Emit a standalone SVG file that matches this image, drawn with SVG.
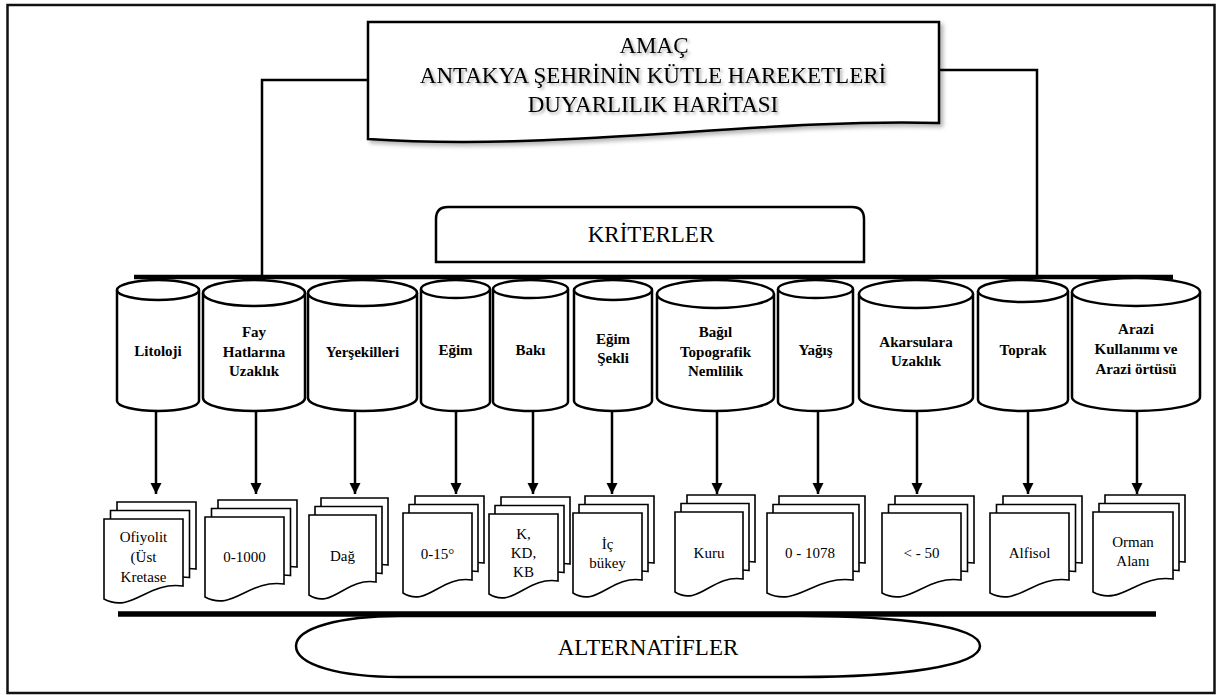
<svg xmlns="http://www.w3.org/2000/svg" width="1217" height="695" viewBox="0 0 1217 695">
<style>
text{font-family:"Liberation Serif","Times New Roman",serif;fill:#000;text-anchor:middle}
.big{font-size:23px}
.cyl{font-size:15px;font-weight:bold}
.doc{font-size:15px}
.s{fill:#fff;stroke:#000;stroke-width:2.5}
.d{fill:#fff;stroke:#000;stroke-width:1.6}
.ln{fill:none;stroke:#000;stroke-width:2.5}
.ar{fill:none;stroke:#000;stroke-width:2.5;marker-end:url(#ah)}
</style>
<defs>
<marker id="ah" markerUnits="userSpaceOnUse" markerWidth="12" markerHeight="12" viewBox="0 0 12 12" refX="11" refY="6" orient="auto">
<path d="M0,0.5 L11,6 L0,11.5 Z" fill="#000"/>
</marker>
<filter id="sh" x="-5%" y="-15%" width="115%" height="140%">
<feGaussianBlur in="SourceAlpha" stdDeviation="2"/>
<feOffset dx="3" dy="3" result="b"/>
<feFlood flood-color="#000" flood-opacity="0.3"/>
<feComposite in2="b" operator="in"/>
<feMerge><feMergeNode/><feMergeNode in="SourceGraphic"/></feMerge>
</filter>
<filter id="tsh" x="-5%" y="-30%" width="110%" height="160%">
<feGaussianBlur in="SourceAlpha" stdDeviation="1.5"/>
<feOffset dx="2" dy="2" result="b"/>
<feFlood flood-color="#000" flood-opacity="0.35"/>
<feComposite in2="b" operator="in"/>
<feMerge><feMergeNode/><feMergeNode in="SourceGraphic"/></feMerge>
</filter>
</defs>
<rect width="1217" height="695" fill="#fff"/>
<rect x="7.5" y="5" width="1207" height="688" fill="none" stroke="#111" stroke-width="2.5"/>

<g id="connectors">
<path class="ln" d="M368,80 H262 V277"/>
<path class="ln" d="M939,70 H1037 V277"/>
<line x1="134" y1="277" x2="1173" y2="277" stroke="#000" stroke-width="4.5"/>
<line x1="118" y1="614" x2="1156" y2="614" stroke="#000" stroke-width="5.5"/>
<line class="ar" x1="156" y1="410" x2="156" y2="494"/>
<line class="ar" x1="256" y1="410" x2="256" y2="494"/>
<line class="ar" x1="355" y1="410" x2="355" y2="494"/>
<line class="ar" x1="456" y1="410" x2="456" y2="494"/>
<line class="ar" x1="533" y1="410" x2="533" y2="494"/>
<line class="ar" x1="612" y1="410" x2="612" y2="494"/>
<line class="ar" x1="717" y1="410" x2="717" y2="494"/>
<line class="ar" x1="818" y1="410" x2="818" y2="494"/>
<line class="ar" x1="917" y1="410" x2="917" y2="494"/>
<line class="ar" x1="1028" y1="410" x2="1028" y2="494"/>
<line class="ar" x1="1137" y1="410" x2="1137" y2="494"/>
</g>

<g id="amac">
<path filter="url(#sh)" class="s" d="M368,22 H939 V123 C760,118 560,152 368,139 Z"/>
<g filter="url(#tsh)">
<text class="big" x="654" y="53">AMAÇ</text>
<text class="big" x="653" y="83">ANTAKYA ŞEHRİNİN KÜTLE HAREKETLERİ</text>
<text class="big" x="653" y="112">DUYARLILIK HARİTASI</text>
</g>
</g>

<g id="kriterler">
<path class="s" d="M436,262 V219 Q436,207 448,207 H852 Q864,207 864,219 V262 Z"/>
<text class="big" x="651" y="242">KRİTERLER</text>
</g>

<g id="c1"><path class="s" d="M117,290 V401 A41,10 0 0 0 199,401 V290"/><ellipse class="s" cx="158" cy="290" rx="41" ry="10"/>
<text class="cyl" x="158" y="356">Litoloji</text></g>
<g id="c2"><path class="s" d="M203,293 V398 A51,13 0 0 0 305,398 V293"/><ellipse class="s" cx="254" cy="293" rx="51" ry="13"/>
<text class="cyl" x="254" y="337">Fay</text><text class="cyl" x="254" y="357">Hatlarına</text><text class="cyl" x="254" y="376">Uzaklık</text></g>
<g id="c3"><path class="s" d="M308,293 V398 A54.5,13 0 0 0 417,398 V293"/><ellipse class="s" cx="362.5" cy="293" rx="54.5" ry="13"/>
<text class="cyl" x="362.5" y="357">Yerşekilleri</text></g>
<g id="c4"><path class="s" d="M421,289 V402 A34.5,9 0 0 0 490,402 V289"/><ellipse class="s" cx="455.5" cy="289" rx="34.5" ry="9"/>
<text class="cyl" x="455.5" y="355">Eğim</text></g>
<g id="c5"><path class="s" d="M493,289 V402 A37.5,9 0 0 0 568,402 V289"/><ellipse class="s" cx="530.5" cy="289" rx="37.5" ry="9"/>
<text class="cyl" x="530.5" y="355">Bakı</text></g>
<g id="c6"><path class="s" d="M574,290 V401 A39,10 0 0 0 652,401 V290"/><ellipse class="s" cx="613" cy="290" rx="39" ry="10"/>
<text class="cyl" x="613" y="344">Eğim</text><text class="cyl" x="613" y="363">Şekli</text></g>
<g id="c7"><path class="s" d="M657,294 V397 A58.5,14 0 0 0 774,397 V294"/><ellipse class="s" cx="715.5" cy="294" rx="58.5" ry="14"/>
<text class="cyl" x="715.5" y="337">Bağıl</text><text class="cyl" x="715.5" y="357">Topografik</text><text class="cyl" x="715.5" y="376">Nemlilik</text></g>
<g id="c8"><path class="s" d="M778,289 V402 A37.5,9 0 0 0 853,402 V289"/><ellipse class="s" cx="815.5" cy="289" rx="37.5" ry="9"/>
<text class="cyl" x="815.5" y="355">Yağış</text></g>
<g id="c9"><path class="s" d="M859,294 V397 A57,14 0 0 0 973,397 V294"/><ellipse class="s" cx="916" cy="294" rx="57" ry="14"/>
<text class="cyl" x="916" y="347">Akarsulara</text><text class="cyl" x="916" y="366">Uzaklık</text></g>
<g id="c10"><path class="s" d="M978,291 V400 A45,11 0 0 0 1068,400 V291"/><ellipse class="s" cx="1023" cy="291" rx="45" ry="11"/>
<text class="cyl" x="1023" y="355">Toprak</text></g>
<g id="c11"><path class="s" d="M1072,292 V397 A64,14 0 0 0 1200,397 V292"/><ellipse class="s" cx="1136" cy="292" rx="64" ry="14"/>
<text class="cyl" x="1136" y="334">Arazi</text><text class="cyl" x="1136" y="354">Kullanımı ve</text><text class="cyl" x="1136" y="374">Arazi örtüsü</text></g>

<g id="d1" transform="translate(104,519)">
<path class="d" transform="translate(13,-17)" d="M0,0 H79 V67 C43,62 28,95 0,80 Z"/>
<path class="d" transform="translate(6.5,-8.5)" d="M0,0 H79 V67 C43,62 28,95 0,80 Z"/>
<path class="d" d="M0,0 H79 V67 C43,62 28,95 0,80 Z"/>
<text class="doc" x="39.5" y="23">Ofiyolit</text><text class="doc" x="39.5" y="43">(Üst</text><text class="doc" x="39.5" y="63">Kretase</text></g>
<g id="d2" transform="translate(205,517)">
<path class="d" transform="translate(13,-17)" d="M0,0 H79 V67 C43,62 28,95 0,80 Z"/>
<path class="d" transform="translate(6.5,-8.5)" d="M0,0 H79 V67 C43,62 28,95 0,80 Z"/>
<path class="d" d="M0,0 H79 V67 C43,62 28,95 0,80 Z"/>
<text class="doc" x="39.5" y="45">0-1000</text></g>
<g id="d3" transform="translate(309,515)">
<path class="d" transform="translate(12,-17)" d="M0,0 H67 V67 C37,62 23,95 0,80 Z"/>
<path class="d" transform="translate(6,-8.5)" d="M0,0 H67 V67 C37,62 23,95 0,80 Z"/>
<path class="d" d="M0,0 H67 V67 C37,62 23,95 0,80 Z"/>
<text class="doc" x="33.5" y="46">Dağ</text></g>
<g id="d4" transform="translate(403,513)">
<path class="d" transform="translate(12,-17)" d="M0,0 H69 V67 C38,62 24,95 0,80 Z"/>
<path class="d" transform="translate(6,-8.5)" d="M0,0 H69 V67 C38,62 24,95 0,80 Z"/>
<path class="d" d="M0,0 H69 V67 C38,62 24,95 0,80 Z"/>
<text class="doc" x="34.5" y="46">0-15°</text></g>
<g id="d5" transform="translate(489,514)">
<path class="d" transform="translate(12,-17)" d="M0,0 H69 V67 C38,62 24,95 0,80 Z"/>
<path class="d" transform="translate(6,-8.5)" d="M0,0 H69 V67 C38,62 24,95 0,80 Z"/>
<path class="d" d="M0,0 H69 V67 C38,62 24,95 0,80 Z"/>
<text class="doc" x="34.5" y="25">K,</text><text class="doc" x="34.5" y="44">KD,</text><text class="doc" x="34.5" y="63">KB</text></g>
<g id="d6" transform="translate(573,513)">
<path class="d" transform="translate(12,-17)" d="M0,0 H69 V67 C38,62 24,95 0,80 Z"/>
<path class="d" transform="translate(6,-8.5)" d="M0,0 H69 V67 C38,62 24,95 0,80 Z"/>
<path class="d" d="M0,0 H69 V67 C38,62 24,95 0,80 Z"/>
<text class="doc" x="34.5" y="36">İç</text><text class="doc" x="34.5" y="55">bükey</text></g>
<g id="d7" transform="translate(675,512)">
<path class="d" transform="translate(12,-17)" d="M0,0 H68 V67 C37,62 24,95 0,80 Z"/>
<path class="d" transform="translate(6,-8.5)" d="M0,0 H68 V67 C37,62 24,95 0,80 Z"/>
<path class="d" d="M0,0 H68 V67 C37,62 24,95 0,80 Z"/>
<text class="doc" x="34" y="46">Kuru</text></g>
<g id="d8" transform="translate(767,513)">
<path class="d" transform="translate(12,-17)" d="M0,0 H86 V67 C47,62 30,95 0,80 Z"/>
<path class="d" transform="translate(6,-8.5)" d="M0,0 H86 V67 C47,62 30,95 0,80 Z"/>
<path class="d" d="M0,0 H86 V67 C47,62 30,95 0,80 Z"/>
<text class="doc" x="43" y="45">0 - 1078</text></g>
<g id="d9" transform="translate(882,513)">
<path class="d" transform="translate(13,-17)" d="M0,0 H79 V67 C43,62 28,95 0,80 Z"/>
<path class="d" transform="translate(6.5,-8.5)" d="M0,0 H79 V67 C43,62 28,95 0,80 Z"/>
<path class="d" d="M0,0 H79 V67 C43,62 28,95 0,80 Z"/>
<text class="doc" x="39.5" y="45">&lt; - 50</text></g>
<g id="d10" transform="translate(990,513)">
<path class="d" transform="translate(13,-17)" d="M0,0 H79 V67 C43,62 28,95 0,80 Z"/>
<path class="d" transform="translate(6.5,-8.5)" d="M0,0 H79 V67 C43,62 28,95 0,80 Z"/>
<path class="d" d="M0,0 H79 V67 C43,62 28,95 0,80 Z"/>
<text class="doc" x="39.5" y="45">Alfisol</text></g>
<g id="d11" transform="translate(1093,512)">
<path class="d" transform="translate(12,-17)" d="M0,0 H80 V67 C44,62 28,95 0,80 Z"/>
<path class="d" transform="translate(6,-8.5)" d="M0,0 H80 V67 C44,62 28,95 0,80 Z"/>
<path class="d" d="M0,0 H80 V67 C44,62 28,95 0,80 Z"/>
<text class="doc" x="40" y="35">Orman</text><text class="doc" x="40" y="54">Alanı</text></g>

<g id="alternatifler">
<path class="s" d="M400,616 H800 C900,616 980,626 980,646 C980,666 900,677 800,677 H400 C340,677 296,665 296,646 C296,628 340,616 400,616 Z"/>
<text class="big" x="648" y="655">ALTERNATİFLER</text>
</g>
</svg>
